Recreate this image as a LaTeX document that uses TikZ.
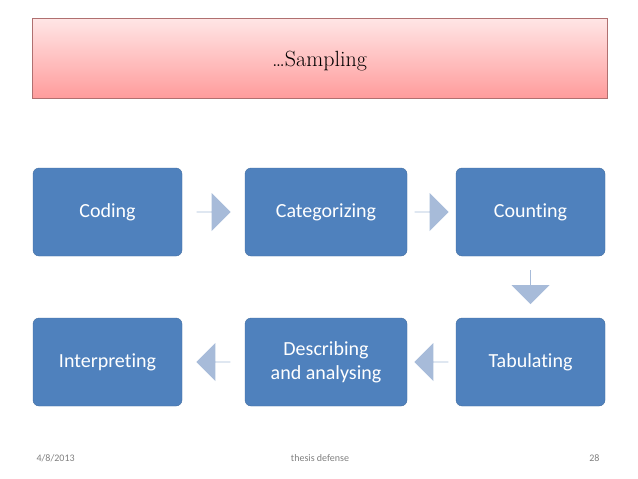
\documentclass[tikz,border=0pt]{standalone}
\usepackage{fontspec}
\setmainfont{Carlito}[Ligatures=NoCommon]
\usetikzlibrary{shapes.arrows,calc}
\definecolor{boxblue}{HTML}{4F81BD}
\definecolor{arrowblue}{HTML}{A7BBD9}
\definecolor{pinktop}{HTML}{FFE6E6}
\definecolor{pinkbot}{HTML}{FF9C9C}
\definecolor{titleedge}{HTML}{B07070}
\tikzset{
  stepbox/.style={draw=boxblue!85!black, fill=boxblue, rounded corners=6pt, minimum width=149pt, minimum height=88pt, text=white, font=\fontsize{20}{24}\selectfont, align=center, inner sep=2pt},
  blockarrow/.style={single arrow, fill=arrowblue, draw=none, minimum height=34pt, minimum width=38pt, single arrow head extend=9pt, single arrow head indent=0pt, inner sep=0pt},
  foot/.style={text=gray, font=\fontsize{10}{12}\selectfont}
}
\begin{document}
\begin{tikzpicture}[x=1pt,y=-1pt]
\useasboundingbox (0,0) rectangle (638,479);
\fill[white] (0,0) rectangle (638,479);
\shade[top color=pinktop, bottom color=pinkbot, draw=titleedge] (32,18) rectangle (607,98);
\node[font=\fontspec{Latin Modern Roman}\fontsize{22}{26}\selectfont] (title) at (319.5,61) {\ldots Sampling};
\node[stepbox] (coding) at (107.5,212) {Coding};
\node[stepbox, minimum width=162pt] (cat) at (326,212) {Categorizing};
\node[stepbox] (count) at (530.5,212) {Counting};
\node[stepbox] (tab) at (530.5,362) {Tabulating};
\node[stepbox, minimum width=162pt] (desc) at (326,362) {Describing\\and analysing};
\node[stepbox] (interp) at (107.5,362) {Interpreting};
\node[blockarrow] (a1) at ($(coding.east)!0.5!(cat.west)$) {};
\node[blockarrow] (a2) at ($(cat.east)!0.5!(count.west)$) {};
\node[blockarrow, shape border rotate=270] (a3) at ($(count.south)!0.5!(tab.north)$) {};
\node[blockarrow, shape border rotate=180] (a4) at ($(tab.west)!0.5!(desc.east)$) {};
\node[blockarrow, shape border rotate=180] (a5) at ($(desc.west)!0.5!(interp.east)$) {};
\node[foot, anchor=west] (date) at (33,458) {4/8/2013};
\node[foot] (thesis) at (320,458) {thesis defense};
\node[foot, anchor=east] (page) at (603,458) {28};
\end{tikzpicture}
\end{document}
